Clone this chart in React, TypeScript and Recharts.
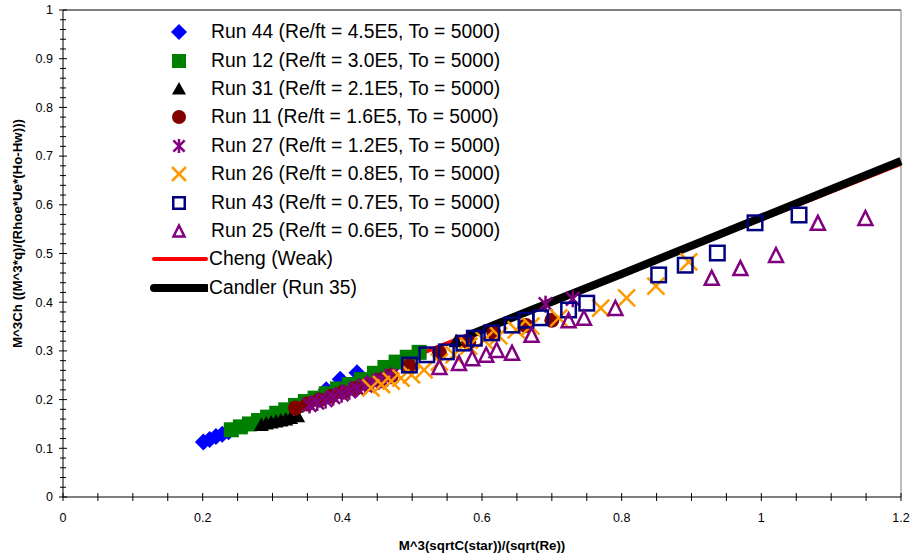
import React from "react";
import { ScatterChart, Scatter, XAxis, YAxis, ReferenceLine, Legend } from "recharts";

const FONT = "'Liberation Sans', Arial, sans-serif";

// axis ticks (minor + major)
const xTicks = [
  0, 0.05, 0.1, 0.15, 0.2, 0.25, 0.3, 0.35, 0.4, 0.45, 0.5, 0.55, 0.6, 0.65,
  0.7, 0.75, 0.8, 0.85, 0.9, 0.95, 1, 1.05, 1.1, 1.15, 1.2,
];
const xLabels = [0, 0.2, 0.4, 0.6, 0.8, 1, 1.2];
const yTicks = [
  0, 0.02, 0.04, 0.06, 0.08, 0.1, 0.12, 0.14, 0.16, 0.18, 0.2, 0.22, 0.24,
  0.26, 0.28, 0.3, 0.32, 0.34, 0.36, 0.38, 0.4, 0.42, 0.44, 0.46, 0.48, 0.5,
  0.52, 0.54, 0.56, 0.58, 0.6, 0.62, 0.64, 0.66, 0.68, 0.7, 0.72, 0.74, 0.76,
  0.78, 0.8, 0.82, 0.84, 0.86, 0.88, 0.9, 0.92, 0.94, 0.96, 0.98, 1,
];
const yLabels = [0, 0.1, 0.2, 0.3, 0.4, 0.5, 0.6, 0.7, 0.8, 0.9, 1];

// [x, y] pairs
const run44 = [
  [0.201, 0.113], [0.21, 0.118], [0.219, 0.124], [0.228, 0.129], [0.237, 0.134],
  [0.377, 0.22], [0.397, 0.242], [0.421, 0.255],
];
const run12 = [
  [0.241, 0.138], [0.254, 0.144], [0.267, 0.15], [0.28, 0.157], [0.293, 0.164],
  [0.306, 0.172], [0.319, 0.179], [0.333, 0.188], [0.347, 0.196], [0.361, 0.203],
  [0.377, 0.212], [0.393, 0.222], [0.41, 0.231], [0.427, 0.241], [0.446, 0.254],
  [0.461, 0.266], [0.477, 0.277], [0.493, 0.287], [0.51, 0.297],
];
const run31 = [
  [0.284, 0.148], [0.291, 0.151], [0.298, 0.153], [0.305, 0.155], [0.312, 0.157],
  [0.319, 0.159], [0.326, 0.162], [0.336, 0.166], [0.563, 0.32],
];
const run11 = [
  [0.333, 0.183], [0.35, 0.191], [0.367, 0.199], [0.384, 0.207], [0.401, 0.215],
  [0.419, 0.223], [0.436, 0.231], [0.453, 0.239], [0.47, 0.249], [0.496, 0.269],
  [0.539, 0.296], [0.581, 0.318], [0.617, 0.337], [0.663, 0.352], [0.7, 0.363],
];
const run27 = [
  [0.353, 0.189], [0.364, 0.194], [0.376, 0.199], [0.387, 0.205], [0.399, 0.211],
  [0.41, 0.217], [0.421, 0.223], [0.433, 0.229], [0.444, 0.235], [0.456, 0.241],
  [0.47, 0.249], [0.691, 0.396], [0.73, 0.407],
];
const run26 = [
  [0.441, 0.224], [0.456, 0.231], [0.47, 0.238], [0.484, 0.244], [0.499, 0.251],
  [0.517, 0.261], [0.539, 0.277], [0.56, 0.292], [0.581, 0.31], [0.603, 0.322],
  [0.624, 0.331], [0.649, 0.343], [0.67, 0.351], [0.71, 0.368], [0.77, 0.388],
  [0.807, 0.409], [0.849, 0.433], [0.896, 0.483],
];
const run43 = [
  [0.496, 0.271], [0.521, 0.292], [0.549, 0.298], [0.574, 0.316], [0.589, 0.326],
  [0.614, 0.337], [0.643, 0.353], [0.663, 0.363], [0.684, 0.368], [0.724, 0.384],
  [0.75, 0.398], [0.853, 0.456], [0.891, 0.476], [0.937, 0.501], [0.991, 0.563],
  [1.054, 0.579],
];
const run25 = [
  [0.539, 0.267], [0.567, 0.275], [0.586, 0.285], [0.606, 0.292], [0.621, 0.302],
  [0.643, 0.296], [0.671, 0.333], [0.724, 0.363], [0.746, 0.368], [0.791, 0.388],
  [0.929, 0.45], [0.97, 0.47], [1.021, 0.497], [1.081, 0.563], [1.149, 0.573],
];
const cheng = [
  [0.5, 0.287], [0.6, 0.344], [0.8, 0.457], [1.0, 0.57], [1.2, 0.684],
];
const candler = [
  [0.579, 0.331], [0.7, 0.401], [0.8, 0.458], [0.9, 0.516], [1.0, 0.574],
  [1.1, 0.632], [1.2, 0.69],
];

const runs = [
  { name: "Run 44 (Re/ft = 4.5E5, To = 5000)", pts: run44, kind: "diamond", color: "#0000FF" },
  { name: "Run 12 (Re/ft = 3.0E5, To = 5000)", pts: run12, kind: "square", color: "#008000" },
  { name: "Run 31 (Re/ft = 2.1E5, To = 5000)", pts: run31, kind: "triangle", color: "#000000" },
  { name: "Run 11 (Re/ft = 1.6E5, To = 5000)", pts: run11, kind: "circle", color: "#800000" },
  { name: "Run 27 (Re/ft = 1.2E5, To = 5000)", pts: run27, kind: "star", color: "#800080" },
  { name: "Run 26 (Re/ft = 0.8E5, To = 5000)", pts: run26, kind: "x", color: "#FF9900" },
  { name: "Run 43 (Re/ft = 0.7E5, To = 5000)", pts: run43, kind: "osquare", color: "#000080" },
  { name: "Run 25 (Re/ft = 0.6E5, To = 5000)", pts: run25, kind: "otriangle", color: "#800080" },
];
const lines = [
  { name: "Cheng (Weak)", pts: cheng, color: "#FF0000", width: 4 },
  { name: "Candler (Run 35)", pts: candler, color: "#000000", width: 8 },
];

const toData = (pts: number[][]) => pts.map(([x, y]) => ({ x, y }));

const Marker = ({ kind, color, cx, cy, size }: any) => {
  const h = size / 2;
  switch (kind) {
    case "diamond":
      return <polygon points={`${cx},${cy - h - 1} ${cx + h + 1},${cy} ${cx},${cy + h + 1} ${cx - h - 1},${cy}`} fill={color} />;
    case "square":
      return <rect x={cx - h} y={cy - h} width={size} height={size} fill={color} />;
    case "triangle":
      return <polygon points={`${cx},${cy - h} ${cx + h},${cy + h * 0.8} ${cx - h},${cy + h * 0.8}`} fill={color} />;
    case "circle":
      return <circle cx={cx} cy={cy} r={h} fill={color} />;
    case "star":
      return (
        <g stroke={color} strokeWidth={2.5}>
          <line x1={cx - h * 0.8} y1={cy - h * 0.8} x2={cx + h * 0.8} y2={cy + h * 0.8} />
          <line x1={cx - h * 0.8} y1={cy + h * 0.8} x2={cx + h * 0.8} y2={cy - h * 0.8} />
          <line x1={cx} y1={cy - h} x2={cx} y2={cy + h} />
        </g>
      );
    case "x":
      return (
        <g stroke={color} strokeWidth={2.5}>
          <line x1={cx - h} y1={cy - h} x2={cx + h} y2={cy + h} />
          <line x1={cx - h} y1={cy + h} x2={cx + h} y2={cy - h} />
        </g>
      );
    case "osquare":
      return <rect x={cx - h + 1.25} y={cy - h + 1.25} width={size - 2.5} height={size - 2.5} fill="none" stroke={color} strokeWidth={2.5} />;
    case "otriangle":
      return (
        <polygon
          points={`${cx},${cy - h + 1.5} ${cx + h - 1.5},${cy + h - 1.5} ${cx - h + 1.5},${cy + h - 1.5}`}
          fill="none"
          stroke={color}
          strokeWidth={2.5}
        />
      );
    default:
      return <g />;
  }
};

const plotSize = (kind: string) =>
  kind === "osquare" || kind === "otriangle" || kind === "x" || kind === "star" ? 17 : 15;

const XTick = ({ x, y, payload }: any) => {
  const v = payload.value;
  const major = xLabels.some((m) => Math.abs(m - v) < 1e-6);
  return (
    <g>
      <line x1={x} x2={x} y1={y - 4} y2={y + 4} stroke="#000" strokeWidth={1} />
      {major && (
        <text x={x} y={y + 21} dy="0.35em" textAnchor="middle" fontSize={12.5} fontFamily={FONT} fill="#000">
          {String(v)}
        </text>
      )}
    </g>
  );
};

const YTick = ({ x, y, payload }: any) => {
  const v = payload.value;
  const major = yLabels.some((m) => Math.abs(m - v) < 1e-6);
  return (
    <g>
      <line x1={x - (major ? 4 : 3)} x2={x + (major ? 4 : 3)} y1={y} y2={y} stroke="#000" strokeWidth={1} />
      {major && (
        <text x={x - 10} y={y} dy="0.35em" textAnchor="end" fontSize={12.5} fontFamily={FONT} fill="#000">
          {String(v)}
        </text>
      )}
    </g>
  );
};

const YTitle = ({ viewBox }: any) => {
  const cx = viewBox.x + 4;
  const cy = viewBox.y + viewBox.height / 2 - 20;
  return (
    <text x={cx} y={cy} transform={`rotate(-90,${cx},${cy})`} textAnchor="middle" dy="0.35em"
      fontSize={13.3} fontWeight="bold" fontFamily={FONT} fill="#000">
      M^3Ch ((M^3*q)/(Rhoe*Ue*(Ho-Hw)))
    </text>
  );
};

const XTitle = ({ viewBox }: any) => (
  <text x={viewBox.x + viewBox.width / 2} y={viewBox.y + 48} dy="0.35em" textAnchor="middle"
    fontSize={13.3} fontWeight="bold" fontFamily={FONT} fill="#000">
    M^3(sqrtC(star))/(sqrt(Re))
  </text>
);

const LegendBox = () => (
  <div style={{ fontFamily: FONT, fontSize: 19.3, color: "#000" }}>
    {runs.map((r) => (
      <div key={r.name} style={{ display: "flex", alignItems: "center", height: 28.4 }}>
        <svg width={58} height={28} style={{ marginRight: 3 }}>
          <Marker kind={r.kind} color={r.color} cx={29} cy={14} size={14} />
        </svg>
        <span style={{ whiteSpace: "nowrap" }}>{r.name}</span>
      </div>
    ))}
    {lines.map((l) => (
      <div key={l.name} style={{ display: "flex", alignItems: "center", height: 28.4 }}>
        <svg width={58} height={28} style={{ marginRight: 1 }}>
          <line x1={4} x2={56} y1={14} y2={14} stroke={l.color} strokeWidth={l.width} strokeLinecap="round" />
        </svg>
        <span style={{ whiteSpace: "nowrap" }}>{l.name}</span>
      </div>
    ))}
  </div>
);

export default function App() {
  return (
    <div style={{ position: "absolute", left: 0, top: 0, background: "#fff" }}>
      <ScatterChart width={916} height={558} margin={{ top: 10, right: 15, bottom: 21, left: 13 }}>
        <XAxis
          type="number"
          dataKey="x"
          domain={[0, 1.2]}
          ticks={xTicks}
          interval={0}
          tickSize={0}
          tickMargin={0}
          tick={<XTick />}
          tickLine={false}
          axisLine={{ stroke: "#000" }}
          height={40}
          label={<XTitle />}
        />
        <YAxis
          type="number"
          dataKey="y"
          domain={[0, 1]}
          ticks={yTicks}
          interval={0}
          tickSize={0}
          tickMargin={0}
          tick={<YTick />}
          tickLine={false}
          axisLine={{ stroke: "#000" }}
          width={50}
          label={<YTitle />}
        />
        <ReferenceLine y={1} stroke="#000" />
        <ReferenceLine x={1.2} stroke="#808080" />
        {lines.map((l) => (
          <Scatter
            key={l.name}
            name={l.name}
            data={toData(l.pts)}
            line={{ stroke: l.color, strokeWidth: l.width }}
            lineType="joint"
            shape={() => <g />}
            isAnimationActive={false}
          />
        ))}
        {runs.map((r) => (
          <Scatter
            key={r.name}
            name={r.name}
            data={toData(r.pts)}
            shape={(p: any) => <Marker kind={r.kind} color={r.color} cx={p.cx} cy={p.cy} size={plotSize(r.kind)} />}
            isAnimationActive={false}
          />
        ))}
        <Legend
          layout="vertical"
          align="center"
          verticalAlign="middle"
          wrapperStyle={{ top: 18, left: 150, width: "auto" }}
          content={<LegendBox />}
        />
      </ScatterChart>
    </div>
  );
}
